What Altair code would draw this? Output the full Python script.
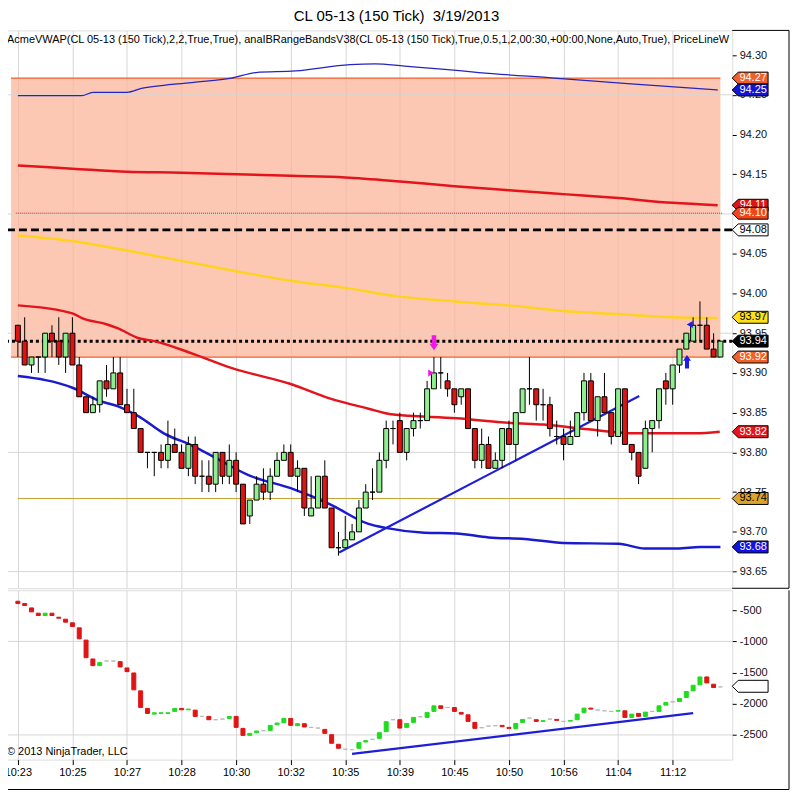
import altair as alt
import pandas as pd

FONT = "Liberation Sans"

# ---------------- data ----------------
TITLE = "CL 05-13 (150 Tick)\u00a0 3/19/2013"
INDICATOR_TEXT = ("AcmeVWAP(CL 05-13 (150 Tick),2,2,True,True), anaIBRangeBandsV38(CL 05-13 (150 Tick),"
                  "True,0.5,1,2,00:30,+00:00,None,Auto,True), PriceLineW")
COPYRIGHT = "\u00a9 2013 NinjaTrader, LLC"

TIME_LABELS = ["10:23", "10:25", "10:27", "10:28", "10:30", "10:32", "10:35",
               "10:39", "10:45", "10:50", "10:56", "11:04", "11:12"]
TIME_TICKS = [0, 8, 16, 24, 32, 40, 48, 56, 64, 72, 80, 88, 96]

OPEN = [93.96, 93.94, 93.91, 93.92, 93.92, 93.95, 93.94, 93.92, 93.95, 93.91,
        93.87, 93.85, 93.86, 93.89, 93.88, 93.90, 93.86, 93.85, 93.83, 93.80,
        93.80, 93.80, 93.79, 93.81, 93.80, 93.78, 93.81, 93.77, 93.77, 93.76,
        93.80, 93.77, 93.79, 93.76, 93.72, 93.74, 93.76, 93.75, 93.77, 93.79,
        93.80, 93.77, 93.78, 93.72, 93.73, 93.77, 93.73, 93.68, 93.68, 93.69,
        93.70, 93.73, 93.75, 93.75, 93.79, 93.83, 93.84, 93.80, 93.83, 93.84,
        93.84, 93.88, 93.90, 93.89, 93.88, 93.87, 93.88, 93.83, 93.79, 93.81,
        93.78, 93.79, 93.83, 93.81, 93.85, 93.88, 93.88, 93.86, 93.86, 93.82,
        93.82, 93.81, 93.82, 93.85, 93.89, 93.84, 93.87, 93.85, 93.82, 93.88,
        93.81, 93.80, 93.78, 93.83, 93.84, 93.89, 93.88, 93.91, 93.93, 93.94,
        93.96, 93.96, 93.93, 93.92]
HIGH = [93.96, 93.97, 93.92, 93.92, 93.95, 93.96, 93.97, 93.95, 93.97, 93.92,
        93.87, 93.87, 93.89, 93.91, 93.92, 93.92, 93.88, 93.88, 93.83, 93.80,
        93.80, 93.81, 93.84, 93.83, 93.81, 93.82, 93.82, 93.79, 93.79, 93.80,
        93.80, 93.81, 93.80, 93.76, 93.74, 93.77, 93.78, 93.78, 93.80, 93.81,
        93.81, 93.79, 93.78, 93.77, 93.77, 93.79, 93.73, 93.70, 93.72, 93.71,
        93.74, 93.76, 93.78, 93.80, 93.84, 93.84, 93.85, 93.83, 93.85, 93.85,
        93.89, 93.92, 93.92, 93.90, 93.88, 93.88, 93.88, 93.83, 93.83, 93.82,
        93.80, 93.83, 93.84, 93.85, 93.88, 93.92, 93.88, 93.88, 93.87, 93.84,
        93.83, 93.84, 93.85, 93.90, 93.90, 93.87, 93.90, 93.85, 93.88, 93.88,
        93.81, 93.80, 93.84, 93.84, 93.88, 93.90, 93.91, 93.93, 93.95, 93.97,
        93.99, 93.97, 93.95, 93.94]
LOW = [93.92, 93.91, 93.90, 93.90, 93.90, 93.92, 93.91, 93.90, 93.91, 93.87,
       93.85, 93.85, 93.85, 93.87, 93.88, 93.86, 93.85, 93.83, 93.80, 93.78,
       93.77, 93.78, 93.78, 93.80, 93.78, 93.77, 93.76, 93.75, 93.75, 93.75,
       93.76, 93.76, 93.75, 93.71, 93.71, 93.74, 93.74, 93.74, 93.77, 93.79,
       93.77, 93.75, 93.72, 93.72, 93.73, 93.73, 93.68, 93.67, 93.68, 93.69,
       93.70, 93.73, 93.74, 93.75, 93.78, 93.81, 93.80, 93.79, 93.82, 93.83,
       93.84, 93.88, 93.88, 93.87, 93.85, 93.86, 93.83, 93.78, 93.78, 93.78,
       93.78, 93.78, 93.81, 93.79, 93.85, 93.86, 93.84, 93.84, 93.82, 93.81,
       93.79, 93.81, 93.82, 93.84, 93.84, 93.82, 93.85, 93.81, 93.82, 93.81,
       93.79, 93.76, 93.78, 93.80, 93.83, 93.86, 93.86, 93.90, 93.93, 93.94,
       93.94, 93.93, 93.92, 93.92]
CLOSE = [93.94, 93.91, 93.92, 93.92, 93.95, 93.94, 93.92, 93.95, 93.91, 93.87,
         93.85, 93.86, 93.89, 93.88, 93.90, 93.86, 93.85, 93.83, 93.80, 93.80,
         93.80, 93.79, 93.81, 93.80, 93.78, 93.81, 93.77, 93.77, 93.76, 93.80,
         93.77, 93.79, 93.76, 93.71, 93.74, 93.76, 93.75, 93.77, 93.79, 93.80,
         93.77, 93.78, 93.73, 93.73, 93.77, 93.73, 93.68, 93.68, 93.69, 93.70,
         93.73, 93.75, 93.75, 93.79, 93.83, 93.83, 93.80, 93.83, 93.84, 93.84,
         93.88, 93.90, 93.90, 93.88, 93.86, 93.88, 93.83, 93.79, 93.81, 93.78,
         93.79, 93.83, 93.81, 93.85, 93.88, 93.88, 93.86, 93.86, 93.83, 93.82,
         93.81, 93.82, 93.85, 93.89, 93.84, 93.87, 93.85, 93.82, 93.88, 93.81,
         93.80, 93.77, 93.83, 93.84, 93.88, 93.88, 93.91, 93.93, 93.95, 93.96,
         93.96, 93.93, 93.92, 93.94]

DELTA_OPEN = [-356, -393, -463, -548, -585, -548, -612, -644, -702, -782,
              -979, -1282, -1389, -1314, -1314, -1325, -1426, -1506, -1793, -2075,
              -2166, -2155, -2155, -2123, -2075, -2097, -2102, -2203, -2203, -2256,
              -2246, -2235, -2203, -2395, -2507, -2464, -2432, -2427, -2336, -2304,
              -2235, -2352, -2320, -2379, -2390, -2411, -2496, -2650, -2730, -2736,
              -2714, -2613, -2571, -2555, -2448, -2256, -2256, -2379, -2299, -2209,
              -2219, -2123, -2033, -2060, -2060, -2139, -2177, -2299, -2384, -2358,
              -2352, -2347, -2379, -2400, -2299, -2230, -2256, -2283, -2246, -2251,
              -2283, -2278, -2256, -2139, -2070, -2102, -2113, -2123, -2118, -2113,
              -2219, -2155, -2203, -2123, -2123, -2022, -1969, -1964, -1900, -1793,
              -1697, -1570, -1687, -1730]
DELTA_CLOSE = [-393, -425, -526, -585, -548, -585, -628, -692, -761, -958,
               -1261, -1389, -1341, -1314, -1314, -1410, -1485, -1777, -2059, -2155,
               -2145, -2145, -2145, -2075, -2097, -2086, -2203, -2203, -2256, -2256,
               -2246, -2203, -2379, -2507, -2475, -2437, -2432, -2347, -2310, -2235,
               -2347, -2320, -2373, -2379, -2390, -2475, -2634, -2714, -2730, -2736,
               -2624, -2592, -2571, -2464, -2288, -2256, -2390, -2315, -2219, -2209,
               -2139, -2033, -2075, -2060, -2123, -2166, -2283, -2395, -2384, -2358,
               -2352, -2368, -2395, -2315, -2251, -2230, -2283, -2272, -2246, -2267,
               -2283, -2270, -2166, -2070, -2086, -2102, -2113, -2123, -2112, -2219,
               -2166, -2203, -2134, -2123, -2033, -1980, -1969, -1916, -1804, -1703,
               -1570, -1666, -1740, -1730]

# indicator lines (bar index, price)
BLUE_TOP_X = [0, 9.4, 11, 16, 18.1, 22.6, 26.1, 31.3, 34.9, 40.7, 48.7, 52.4, 56.7, 62.6, 67.6, 78.6, 89.4, 102.6]
BLUE_TOP_Y = [94.249, 94.249, 94.253, 94.253, 94.258, 94.263, 94.266, 94.271, 94.278, 94.280,
              94.288, 94.289, 94.286, 94.282, 94.278, 94.271, 94.264, 94.256]
RED_UP_X = [0, 8, 16, 24, 32, 40, 48, 56, 64, 72, 80, 88, 96, 102.6]
RED_UP_Y = [94.161, 94.157, 94.153, 94.152, 94.150, 94.148, 94.146, 94.141, 94.135, 94.130,
            94.125, 94.120, 94.114, 94.111]
YELLOW_X = [0, 8, 16, 24, 32, 40, 48, 56, 64, 72, 80, 88, 96, 102.6]
YELLOW_Y = [94.073, 94.066, 94.054, 94.041, 94.028, 94.016, 94.007, 93.996, 93.990, 93.985,
            93.978, 93.974, 93.970, 93.969]
RED_VWAP_X = [0, 8, 9.4, 13.1, 14.7, 17.6, 20, 25.7, 31.4, 40, 45.7, 51.4, 54.7, 64.3, 72.4,
              77.1, 83.6, 90.7, 99.3, 102.9]
RED_VWAP_Y = [93.985, 93.975, 93.969, 93.961, 93.956, 93.944, 93.940, 93.924, 93.906, 93.886,
              93.868, 93.855, 93.848, 93.843, 93.837, 93.835, 93.829, 93.824, 93.824, 93.826]
BLUE_LOW_X = [0, 8.1, 11.9, 14.7, 17.6, 21.4, 25.7, 29, 33.9, 40, 45.7, 51.4, 53.9, 59.6, 64.3,
              69, 74.3, 80, 88.1, 91.9, 96.7, 100, 103]
BLUE_LOW_Y = [93.896, 93.881, 93.865, 93.858, 93.846, 93.824, 93.808, 93.793, 93.771, 93.755,
              93.735, 93.710, 93.705, 93.699, 93.698, 93.693, 93.691, 93.686, 93.685, 93.679,
              93.679, 93.681, 93.681]

BAND_X = [-1.0, 103.0]
BAND_TOP = 94.271
BAND_BOTTOM = 93.920
DASHED_BLACK = 94.080
DOTTED_BLACK = 93.940
DOTTED_RED = 94.101
DOTTED_RED_X = [-0.3, 103.3]
OLIVE = 93.742
OLIVE_X = [0, 103]

TREND_TOP_X = [47.1, 91.1]
TREND_TOP_Y = [93.674, 93.871]
TREND_BOT_X = [49, 99]
TREND_BOT_Y = [-2805, -2150]

GRID_TOP = [93.65, 93.80, 93.95, 94.10, 94.25]
GRID_BOT = [-2500, -1000]
PRICE_TICKS = [round(93.65 + 0.05 * k, 2) for k in range(14)]
DELTA_TICKS = [-2500, -2000, -1500, -1000, -500]

MARK_PRICE = [94.271, 94.256, 94.111, 94.080, 93.970, 93.940, 93.920, 93.826, 93.742, 93.681]
MARK_TEXT = ["94.27", "94.25", "94.11", "94.08", "93.97", "93.94", "93.92", "93.82", "93.74", "93.68"]
MARK_FILL = ["#F2602A", "#1414D4", "#DD1515", "#FFFFFF", "#FFE01C", "#000000", "#F2602A",
             "#E8141C", "#D9A52E", "#1212E0"]
MARK_INK = ["#FFFFFF", "#FFFFFF", "#FFFFFF", "#000000", "#000000", "#FFFFFF", "#FFFFFF",
            "#FFFFFF", "#000000", "#FFFFFF"]
MARK2_PRICE = [94.101]
MARK2_TEXT = ["94.10"]
MARK2_FILL = ["#F0461C"]
MARK2_INK = ["#FFFFFF"]
DELTA_MARK = [-1720]

SIG_DOWN = (61, 93.938)
SIG_UP = (98.1, 93.914)
SIG_TRI_R = (60.6, 93.900)
SIG_TRI_L = (98.5, 93.961)

# ---------------- geometry / styles ----------------
W = 730
H_TOP = 560
H_BOT = 170
FLAG = "M-1,0L-0.667,-0.333L1,-0.333L1,0.333L-0.667,0.333Z"
ARROW_DOWN = "M-0.3,-1L0.3,-1L0.3,0.15L0.6,0.15L0,1L-0.6,0.15L-0.3,0.15Z"
ARROW_UP = "M-0.3,1L0.3,1L0.3,-0.15L0.6,-0.15L0,-1L-0.6,-0.15L-0.3,-0.15Z"

xs = alt.Scale(domain=[-1.152, 104.0], nice=False, zero=False)
ys = alt.Scale(domain=[93.629, 94.331], nice=False, zero=False)
yb = alt.Scale(domain=[-2896, -180], nice=False, zero=False)

U = alt.Undefined


def X(f, axis=U):
    return alt.X(f, type="quantitative", scale=xs, axis=axis, title=None)


def YT(f, axis=U):
    return alt.Y(f, type="quantitative", scale=ys, axis=axis, title=None)


def YB(f, axis=U):
    return alt.Y(f, type="quantitative", scale=yb, axis=axis, title=None)


def line_df(xv, yv):
    return pd.DataFrame({"x": xv, "y": yv})


one = pd.DataFrame({"k": [0]})


def frame(x, x2, y, y2=None):
    enc = dict(x=alt.value(x), x2=alt.value(x2), y=alt.value(y))
    if y2 is not None:
        enc["y2"] = alt.value(y2)
    return alt.Chart(one).mark_rule(color="#000", strokeWidth=1).encode(**enc)


# ---------------- top panel ----------------
cdf = pd.DataFrame({"bar": list(range(len(OPEN))), "o": OPEN, "h": HIGH, "l": LOW, "c": CLOSE})
cdf["fill"] = ["#90EE90" if c >= o else "#DC1414" for o, c in zip(OPEN, CLOSE)]

x_axis_top = alt.Axis(values=TIME_TICKS, grid=True, gridColor="#D6D6D6", labels=False,
                      ticks=False, domain=False)
y_axis_top = alt.Axis(orient="right", values=PRICE_TICKS, grid=False, domain=False,
                      labelExpr="abs(datum.value - 94.1) < 0.001 ? '' : format(datum.value, '.2f')",
                      tickSize=4, tickColor="#000", labelColor="#111", labelFontSize=11,
                      labelFont=FONT, labelPadding=3)

axis_holder_top = alt.Chart(cdf).mark_point(opacity=0, size=1).encode(
    x=X("bar", x_axis_top), y=YT("c", y_axis_top))

band = alt.Chart(pd.DataFrame({"x0": [BAND_X[0]], "x1": [BAND_X[1]],
                               "y0": [BAND_BOTTOM], "y1": [BAND_TOP]})).mark_rect(
    color="#FBB69B", opacity=0.75).encode(
    x=X("x0"), x2="x1", y=YT("y0"), y2="y1")

hgrid = alt.Chart(pd.DataFrame({"y": GRID_TOP})).mark_rule(color="#D6D6D6", strokeWidth=1).encode(
    y=YT("y"))

band_edges = alt.Chart(pd.DataFrame({"x0": [BAND_X[0]] * 2, "x1": [BAND_X[1]] * 2,
                                     "y": [BAND_TOP, BAND_BOTTOM]})).mark_rule(
    color="#F0602E", strokeWidth=1.2).encode(x=X("x0"), x2="x1", y=YT("y"))

dotted_red = alt.Chart(pd.DataFrame({"x0": [DOTTED_RED_X[0]], "x1": [DOTTED_RED_X[1]],
                                     "y": [DOTTED_RED]})).mark_rule(
    color="#D22020", strokeWidth=1, strokeDash=[1, 1]).encode(x=X("x0"), x2="x1", y=YT("y"))

olive = alt.Chart(pd.DataFrame({"x0": [OLIVE_X[0]], "x1": [OLIVE_X[1]], "y": [OLIVE]})).mark_rule(
    color="#C9A23A", strokeWidth=1.2).encode(x=X("x0"), x2="x1", y=YT("y"))

dashed_black = alt.Chart(pd.DataFrame({"y": [DASHED_BLACK]})).mark_rule(
    color="#000", strokeWidth=3, strokeDash=[8, 4]).encode(y=YT("y"))
dotted_black = alt.Chart(pd.DataFrame({"y": [DOTTED_BLACK]})).mark_rule(
    color="#000", strokeWidth=3, strokeDash=[3, 3]).encode(y=YT("y"))


def ind_line(xv, yv, color, width):
    return alt.Chart(line_df(xv, yv)).mark_line(color=color, strokeWidth=width,
                                                 interpolate="monotone").encode(
        x=X("x"), y=YT("y"))


blue_top = ind_line(BLUE_TOP_X, BLUE_TOP_Y, "#2424C0", 1.3)
red_up = ind_line(RED_UP_X, RED_UP_Y, "#E4141C", 2.5)
yellow = ind_line(YELLOW_X, YELLOW_Y, "#FFD21E", 2.5)
red_vwap = ind_line(RED_VWAP_X, RED_VWAP_Y, "#E4141C", 2.5)
blue_low = ind_line(BLUE_LOW_X, BLUE_LOW_Y, "#1A1ACF", 2.5)
trend_top = ind_line(TREND_TOP_X, TREND_TOP_Y, "#1E1ED6", 2.2)

wicks = alt.Chart(cdf).mark_rule(color="#000", strokeWidth=1).encode(
    x=X("bar"), y=YT("l"), y2="h")
bodies = alt.Chart(cdf).mark_bar(size=5, stroke="#000", strokeWidth=1).encode(
    x=X("bar"), y=YT("o"), y2="c", fill=alt.Fill("fill:N", scale=None))


def sig(pt, shape, color, size):
    return alt.Chart(pd.DataFrame({"x": [pt[0]], "y": [pt[1]]})).mark_point(
        shape=shape, filled=True, color=color, size=size, opacity=1, strokeWidth=0).encode(
        x=X("x"), y=YT("y"))


sig_down = sig(SIG_DOWN, ARROW_DOWN, "#F018E6", 225)
sig_up = sig(SIG_UP, ARROW_UP, "#1C1CE8", 180)
sig_tri_r = sig(SIG_TRI_R, "triangle-right", "#F018E6", 50)
sig_tri_l = sig(SIG_TRI_L, "triangle-left", "#1C1CE8", 50)


def flags(prices, texts, fills, inks, yfun):
    d = pd.DataFrame({"p": prices, "t": texts, "f": fills, "k": inks})
    f = alt.Chart(d).mark_point(shape=FLAG, size=1296, filled=True, stroke="#000",
                                strokeWidth=1, opacity=1).encode(
        x=alt.value(W + 18), y=yfun("p"), fill=alt.Fill("f:N", scale=None))
    t = alt.Chart(d).mark_text(font=FONT, fontSize=11, align="center", baseline="middle").encode(
        x=alt.value(W + 21), y=yfun("p"), text="t:N", color=alt.Color("k:N", scale=None))
    return f, t


f1, t1 = flags(MARK_PRICE, MARK_TEXT, MARK_FILL, MARK_INK, YT)
f2, t2 = flags(MARK2_PRICE, MARK2_TEXT, MARK2_FILL, MARK2_INK, YT)

ind_text = alt.Chart(pd.DataFrame({"t": [INDICATOR_TEXT]})).mark_text(
    font=FONT, fontSize=11, align="left", baseline="middle", color="#000",
    clip=True).encode(x=alt.value(2), y=alt.value(10), text="t:N")

top = alt.layer(
    axis_holder_top, band, hgrid, band_edges, dotted_red, olive, dashed_black, dotted_black,
    blue_top, red_up, yellow, red_vwap, blue_low, trend_top,
    wicks, bodies, sig_down, sig_up, sig_tri_r, sig_tri_l,
    f1, t1, f2, t2, ind_text,
    frame(W, W + 57, 0), frame(W + 57, W + 57, 0, H_TOP), frame(W, W + 57, H_TOP),
).properties(width=W, height=H_TOP)

# ---------------- bottom panel ----------------
ddf = pd.DataFrame({"bar": list(range(len(DELTA_OPEN))), "o": DELTA_OPEN, "c": DELTA_CLOSE})
ddf["col"] = ["#1EDC1E" if c > o else ("#E01414" if c < o else "#B8B8B8")
              for o, c in zip(DELTA_OPEN, DELTA_CLOSE)]

label_expr = "[" + ",".join("'%s'" % t for t in TIME_LABELS) + "][round(datum.value/8)]"
x_axis_bot = alt.Axis(values=TIME_TICKS, grid=True, gridColor="#D6D6D6", labelExpr=label_expr,
                      tickSize=5, tickColor="#000", domain=False, labelFontSize=11,
                      labelColor="#000", labelFont=FONT, labelPadding=2, labelFlush=False)
y_axis_bot = alt.Axis(orient="right", values=DELTA_TICKS, labelExpr="'' + datum.value", grid=False,
                      domain=False, tickSize=4, tickColor="#000", labelColor="#111",
                      labelFontSize=11, labelFont=FONT, labelPadding=3)

axis_holder_bot = alt.Chart(ddf).mark_point(opacity=0, size=1).encode(
    x=X("bar", x_axis_bot), y=YB("c", y_axis_bot))

hgrid_b = alt.Chart(pd.DataFrame({"y": GRID_BOT})).mark_rule(color="#D6D6D6").encode(
    y=YB("y"))

dbars = alt.Chart(ddf).mark_bar(size=4, strokeWidth=1).encode(
    x=X("bar"), y=YB("o"), y2="c",
    fill=alt.Fill("col:N", scale=None), stroke=alt.Stroke("col:N", scale=None))

trend_bot = alt.Chart(line_df(TREND_BOT_X, TREND_BOT_Y)).mark_line(
    color="#1E1ED6", strokeWidth=2.2).encode(x=X("x"), y=YB("y"))

dflag = alt.Chart(pd.DataFrame({"p": DELTA_MARK})).mark_point(
    shape=FLAG, size=1296, filled=True, fill="#FFFFFF", stroke="#000", strokeWidth=1,
    opacity=1).encode(x=alt.value(W + 18), y=YB("p"))

copyright_text = alt.Chart(pd.DataFrame({"t": [COPYRIGHT]})).mark_text(
    font=FONT, fontSize=11, align="left", baseline="middle", color="#000").encode(
    x=alt.value(2), y=alt.value(H_BOT - 8), text="t:N")

bottom = alt.layer(
    axis_holder_bot, hgrid_b, dbars, trend_bot, dflag, copyright_text,
    frame(W + 57, W + 57, 0, H_BOT + 30), frame(0, W + 57, H_BOT + 30),
    frame(0, 0, H_BOT, H_BOT + 30),
).properties(width=W, height=H_BOT)

chart = alt.vconcat(top, bottom, spacing=0).properties(
    title=alt.TitleParams(TITLE, fontSize=15, font=FONT, fontWeight="normal", color="#000",
                          anchor="middle", offset=5),
    padding={"left": -5, "top": 0, "right": 0, "bottom": 0},
).configure_view(stroke="#000", strokeWidth=1).configure(background="#FFFFFF")

chart.save("out.html", embed_options={"renderer": "svg", "actions": False})
